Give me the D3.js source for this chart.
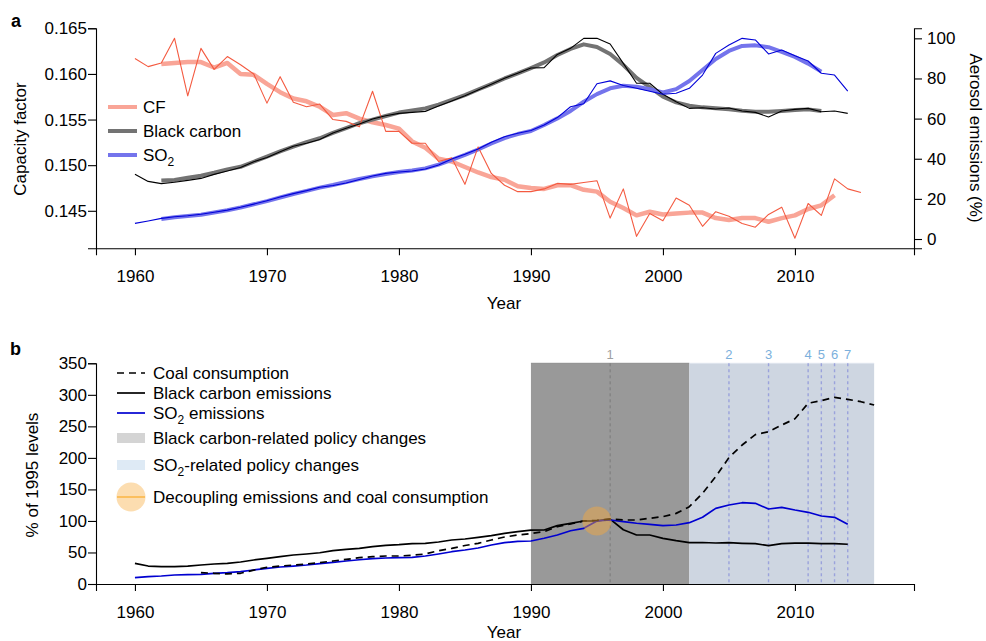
<!doctype html>
<html>
<head>
<meta charset="utf-8">
<script src="https://cdn.jsdelivr.net/npm/d3@7"></script>
<style>
  body { margin: 0; background: #fff; }
  text { font-family: "Liberation Sans", Arial, Helvetica, sans-serif; }
</style>
</head>
<body>
<script>
// ---- panel a data ----
var cfStart = 1960;
var cfRaw = [0.1617, 0.1608, 0.1612, 0.1639, 0.1576, 0.1628, 0.1605, 0.1619, 0.1610, 0.1600,
             0.1568, 0.1597, 0.1569, 0.1564, 0.1567, 0.1550, 0.1548, 0.1542, 0.1581, 0.1537,
             0.1537, 0.1524, 0.1524, 0.1504, 0.1508, 0.1479, 0.1520, 0.1491, 0.1478, 0.1471,
             0.1471, 0.1474, 0.1480, 0.1479, 0.1481, 0.1483, 0.1442, 0.1474, 0.1422, 0.1447,
             0.1439, 0.1464, 0.1456, 0.1433, 0.1449, 0.1444, 0.1436, 0.1432, 0.1446, 0.1454,
             0.1420, 0.1458, 0.1445, 0.1485, 0.1474, 0.1470];
var cfSmoothStart = 1962;
var cfSmooth = [0.1611, 0.1612, 0.1613, 0.1613, 0.1607, 0.1612, 0.1600, 0.1599, 0.1589, 0.1580,
                0.1573, 0.1570, 0.1564, 0.1555, 0.1557, 0.1551, 0.1547, 0.1544, 0.1540, 0.1526,
                0.1519, 0.1507, 0.1504, 0.1498, 0.1492, 0.1487, 0.1484, 0.1477, 0.1475, 0.1474,
                0.1478, 0.1478, 0.1473, 0.1471, 0.1460, 0.1453, 0.1445, 0.1449, 0.1446, 0.1447,
                0.1448, 0.1448, 0.1442, 0.1440, 0.1442, 0.1442, 0.1438, 0.1442, 0.1445, 0.1452,
                0.1456, 0.1467];

var aeroStart = 1960;
var bcRaw = [32.3, 28.7, 27.6, 28.3, 29.2, 30.2, 32.2, 33.9, 35.6, 38.5,
             40.6, 43.5, 46.2, 47.7, 49.6, 52.8, 55.2, 57.3, 59.8, 61.4,
             62.6, 63.1, 63.6, 66.3, 68.8, 71.4, 74.2, 77.1, 80.1, 82.6,
             85.2, 85.4, 92.0, 95.0, 100.0, 100.0, 97.2, 87.5, 77.6, 77.6,
             72.1, 68.4, 65.1, 65.4, 64.8, 65.3, 63.8, 63.1, 60.8, 63.8,
             64.6, 65.1, 63.4, 63.8, 62.6];
var so2Raw = [7.8, 9.0, 10.3, 11.1, 11.6, 12.3, 13.3, 14.4, 15.8, 17.4,
              19.1, 20.9, 22.6, 24.1, 25.8, 26.7, 27.9, 29.7, 31.4, 32.7,
              33.4, 33.9, 34.9, 36.9, 39.9, 42.2, 44.8, 48.2, 51.0, 52.7,
              54.1, 56.8, 60.5, 65.9, 67.4, 77.4, 78.8, 76.5, 75.1, 73.6,
              72.1, 72.6, 75.1, 81.7, 92.5, 96.7, 100.0, 99.2, 92.2, 94.2,
              91.3, 88.7, 82.6, 81.7, 73.7];
var aeroSmoothStart = 1962;
var bcSmooth = [29.1, 29.4, 30.5, 31.5, 33.0, 34.7, 36.0, 38.5, 41.1, 43.7,
                46.0, 48.3, 50.2, 52.9, 55.3, 57.7, 59.5, 61.3, 63.0, 64.0,
                65.1, 67.0, 69.3, 71.7, 74.5, 77.2, 80.0, 82.5, 85.2, 88.0,
                91.7, 94.7, 97.0, 95.7, 92.2, 86.7, 80.3, 75.7, 70.9, 68.1,
                66.4, 65.6, 65.1, 64.7, 63.9, 63.4, 63.4, 63.8, 64.3, 64.6, 63.8];
var so2Smooth = [10.0, 10.8, 11.5, 12.1, 13.2, 14.3, 15.7, 17.3, 18.9, 20.7,
                 22.4, 24.0, 25.6, 26.9, 28.4, 29.9, 31.2, 32.4, 33.4, 34.1,
                 35.2, 37.1, 39.4, 41.9, 44.6, 47.6, 50.3, 52.3, 53.8, 56.8,
                 60.1, 63.8, 68.4, 72.2, 75.1, 76.4, 75.9, 74.6, 73.0, 74.7,
                 78.7, 84.2, 89.7, 93.7, 96.2, 96.5, 95.6, 93.3, 90.7, 87.4, 83.4];

var cfTicks = [0.145, 0.150, 0.155, 0.160, 0.165];
var aeroTicks = [0, 20, 40, 60, 80, 100];
var yearTicks = [1960, 1970, 1980, 1990, 2000, 2010];

// ---- panel b data ----
var coalStart = 1965;
var coal = [18, 17, 16, 17, 22, 26.5, 28.5, 30, 31.7, 33.8,
            36.5, 39, 41.7, 43.3, 44.4, 44.4, 45.5, 47.6, 52.8, 56.5,
            61, 64.5, 69.8, 74.5, 77.7, 80, 83, 90.9, 95.1, 100,
            101, 103, 101.5, 101.5, 104.2, 106.8, 112, 122.6, 143.8, 170.2,
            200.5, 220.4, 237, 241.5, 252.1, 262, 286.6, 290.7, 296, 292.9,
            289.1, 283.9];
var bcStart = 1960;
var bcEm = [32.8, 28.5, 27.5, 27.5, 28.5, 30.1, 31.7, 32.8, 34.9, 38.1,
            40.7, 43.3, 46, 47.6, 49.6, 52.8, 55, 56.6, 59.2, 61.4,
            62.4, 63.9, 64.5, 66.6, 69.8, 71.4, 74, 76.6, 80.4, 83,
            85.3, 85.6, 92.5, 96.2, 99.9, 100, 103, 86, 77.7, 77.7,
            72.4, 68.7, 65.5, 65.8, 65, 65.5, 64.5, 63.9, 60.8, 63.9,
            64.7, 64.7, 63.9, 64, 63];
var so2Em = [10, 11.6, 12.7, 14.3, 14.8, 15.3, 16.9, 18, 19.6, 22.2,
             24.8, 27, 28.5, 30.1, 32.2, 34.4, 36.5, 38.5, 40.1, 41.2,
             41.7, 42.3, 44.4, 47.6, 51.2, 53.9, 57.1, 61.8, 65.5, 67.7,
             68.2, 72.5, 77.7, 84.5, 88.3, 100, 101.5, 98.8, 96.3, 94.7,
             92.5, 93.6, 97.2, 105.8, 120, 125.3, 128.9, 128, 118.9, 121.6,
             117.3, 113.7, 107.8, 105.8, 94.7];
var bcPolicy = [1990, 2002];
var so2Policy = [2002, 2016];
var policyYears = [1996, 2005, 2008, 2011, 2012, 2013, 2014];
var policyLabels = ["1", "2", "3", "4", "5", "6", "7"];
var decoupleYear = 1995, decoupleValue = 100;
var pctTicks = [0, 50, 100, 150, 200, 250, 300, 350];

function series(start, values) {
  return values.map(function(v, i) { return {year: start + i, value: v}; });
}

var svg = d3.select("body").append("svg")
  .attr("width", 986).attr("height", 641);

var fs = 17;

// shared x scale (both panels)
var x = d3.scaleLinear().domain([1957.05, 2019.02]).range([96, 914]);

function styleAxis(g) {
  g.selectAll("text").attr("font-size", fs).attr("fill", "#000")
    .style("font-family", "'Liberation Sans', Arial, sans-serif");
  g.selectAll("line,path").attr("stroke", "#000").attr("stroke-width", 1.1);
}

// ===== panel a =====
var ya = d3.scaleLinear().domain([0.14089, 0.165]).range([248.3, 28.3]);
var yr = d3.scaleLinear().domain([-4.63, 105]).range([248.3, 28.3]);

svg.append("text").attr("x", 11).attr("y", 27).attr("font-size", 18)
  .attr("font-weight", "bold").text("a");

var axL = svg.append("g").attr("transform", "translate(96,0)")
  .call(d3.axisLeft(ya).tickValues(cfTicks).tickFormat(d3.format(".3f"))
    .tickSizeOuter(0).tickSize(8).tickPadding(1));
var axR = svg.append("g").attr("transform", "translate(914,0)")
  .call(d3.axisRight(yr).tickValues(aeroTicks).tickSizeOuter(0).tickSize(8).tickPadding(5));
var axB = svg.append("g").attr("transform", "translate(0,248.3)")
  .call(d3.axisBottom(x).tickValues(yearTicks).tickFormat(d3.format("d")).tickSizeOuter(0).tickSize(7));

[axL, axR, axB].forEach(styleAxis);
axB.selectAll("text").attr("dy", "1.4em");

svg.append("text").attr("transform", "translate(26,139) rotate(-90)")
  .attr("text-anchor", "middle").attr("font-size", fs).text("Capacity factor");
svg.append("text").attr("transform", "translate(970,138) rotate(90)")
  .attr("text-anchor", "middle").attr("font-size", fs).text("Aerosol emissions (%)");
svg.append("text").attr("x", 504).attr("y", 309)
  .attr("text-anchor", "middle").attr("font-size", fs).text("Year");

function drawLine(g, data, yScale, color, width, opts) {
  opts = opts || {};
  var p = g.append("path").datum(data)
    .attr("fill", "none").attr("stroke", color).attr("stroke-width", width)
    .attr("stroke-linejoin", "round").attr("stroke-linecap", "butt")
    .attr("d", d3.line().x(function(d) { return x(d.year); }).y(function(d) { return yScale(d.value); }));
  if (opts.dash) p.attr("stroke-dasharray", opts.dash);
  return p;
}

var ga = svg.append("g");
drawLine(ga, series(cfSmoothStart, cfSmooth), ya, "#f9a597", 4.5);
drawLine(ga, series(aeroSmoothStart, bcSmooth), yr, "#737373", 4);
drawLine(ga, series(aeroSmoothStart, so2Smooth), yr, "#7474ec", 4);
drawLine(ga, series(cfStart, cfRaw), ya, "#f45a40", 1.1);
drawLine(ga, series(aeroStart, bcRaw), yr, "#000", 1.1);
drawLine(ga, series(aeroStart, so2Raw), yr, "#0000d8", 1.1);

// legend a
var legA = [
  {label: "CF", color: "#f9a597", y: 107},
  {label: "Black carbon", color: "#737373", y: 131},
  {label: "SO", sub: "2", color: "#7474ec", y: 155}
];
legA.forEach(function(d) {
  svg.append("line").attr("x1", 108).attr("x2", 137).attr("y1", d.y).attr("y2", d.y)
    .attr("stroke", d.color).attr("stroke-width", 4);
  var t = svg.append("text").attr("x", 143).attr("y", d.y + 6).attr("font-size", fs).text(d.label);
  if (d.sub) t.append("tspan").attr("font-size", 12).attr("dy", 5).text(d.sub);
});

// ===== panel b =====
var yb = d3.scaleLinear().domain([0, 350]).range([584, 363.3]);

svg.append("text").attr("x", 10).attr("y", 355).attr("font-size", 18)
  .attr("font-weight", "bold").text("b");

var gb = svg.append("g");
gb.append("rect").attr("x", x(bcPolicy[0])).attr("y", yb(350))
  .attr("width", x(bcPolicy[1]) - x(bcPolicy[0])).attr("height", yb(0) - yb(350))
  .attr("fill", "#999999");
gb.append("rect").attr("x", x(so2Policy[0])).attr("y", yb(350))
  .attr("width", x(so2Policy[1]) - x(so2Policy[0])).attr("height", yb(0) - yb(350))
  .attr("fill", "#ced6e1");
gb.append("line").attr("x1", x(bcPolicy[0])).attr("x2", x(bcPolicy[1]))
  .attr("y1", yb(350)).attr("y2", yb(350)).attr("stroke", "#8c8c8c").attr("stroke-width", 1);
gb.append("line").attr("x1", x(so2Policy[0])).attr("x2", x(so2Policy[1]))
  .attr("y1", yb(350)).attr("y2", yb(350)).attr("stroke", "#dfe5ee").attr("stroke-width", 1);

policyYears.forEach(function(yv, i) {
  var first = i === 0;
  gb.append("line").attr("x1", x(yv)).attr("x2", x(yv))
    .attr("y1", yb(350)).attr("y2", yb(0))
    .attr("stroke", first ? "#7a7a7a" : "#9aa2dc").attr("stroke-width", first ? 1 : 1.4)
    .attr("stroke-dasharray", "3,3");
  gb.append("text").attr("x", x(yv)).attr("y", 359).attr("text-anchor", "middle")
    .attr("font-size", 13).attr("fill", first ? "#a0a0a0" : "#7bb0dc").text(policyLabels[i]);
});

drawLine(gb, series(bcStart, bcEm), yb, "#000", 1.7);
drawLine(gb, series(bcStart, so2Em), yb, "#0000d0", 1.7);
drawLine(gb, series(coalStart, coal), yb, "#000", 1.7, {dash: "7,5"});

gb.append("circle").attr("cx", x(decoupleYear)).attr("cy", yb(decoupleValue)).attr("r", 14.5)
  .attr("fill", "#f8a93a").attr("fill-opacity", 0.45);

var axL2 = svg.append("g").attr("transform", "translate(96,0)")
  .call(d3.axisLeft(yb).tickValues(pctTicks).tickSizeOuter(0).tickSize(8).tickPadding(1));
var axB2 = svg.append("g").attr("transform", "translate(0,584)")
  .call(d3.axisBottom(x).tickValues(yearTicks).tickFormat(d3.format("d")).tickSizeOuter(0).tickSize(7));
[axL2, axB2].forEach(styleAxis);
axB2.selectAll("text").attr("dy", "1.4em");

svg.append("text").attr("transform", "translate(38,475) rotate(-90)")
  .attr("text-anchor", "middle").attr("font-size", fs).text("% of 1995 levels");
svg.append("text").attr("x", 504).attr("y", 638)
  .attr("text-anchor", "middle").attr("font-size", fs).text("Year");

// legend b
var lx1 = 117, lx2 = 145, tx = 153;
function legText(y, label, sub, rest) {
  var t = svg.append("text").attr("x", tx).attr("y", y + 6).attr("font-size", fs).text(label);
  if (sub) {
    t.append("tspan").attr("font-size", 12).attr("dy", 5).text(sub);
    t.append("tspan").attr("dy", -5).text(rest);
  }
}
svg.append("line").attr("x1", lx1).attr("x2", lx2).attr("y1", 373).attr("y2", 373)
  .attr("stroke", "#000").attr("stroke-width", 1.7).attr("stroke-dasharray", "7,5");
legText(373, "Coal consumption");
svg.append("line").attr("x1", lx1).attr("x2", lx2).attr("y1", 393).attr("y2", 393)
  .attr("stroke", "#000").attr("stroke-width", 1.7);
legText(393, "Black carbon emissions");
svg.append("line").attr("x1", lx1).attr("x2", lx2).attr("y1", 413).attr("y2", 413)
  .attr("stroke", "#0000d0").attr("stroke-width", 1.7);
legText(413, "SO", "2", " emissions");
svg.append("rect").attr("x", lx1).attr("y", 433).attr("width", lx2 - lx1).attr("height", 10)
  .attr("fill", "#d4d4d4");
legText(438, "Black carbon-related policy changes");
svg.append("rect").attr("x", lx1).attr("y", 460).attr("width", lx2 - lx1).attr("height", 10)
  .attr("fill", "#deeaf5");
legText(465, "SO", "2", "-related policy changes");
svg.append("circle").attr("cx", 131).attr("cy", 497).attr("r", 14.5)
  .attr("fill", "#f8a93a").attr("fill-opacity", 0.4);
svg.append("line").attr("x1", lx1).attr("x2", lx2).attr("y1", 497).attr("y2", 497)
  .attr("stroke", "#fbbf5e").attr("stroke-width", 2);
legText(497, "Decoupling emissions and coal consumption");
</script>
</body>
</html>
